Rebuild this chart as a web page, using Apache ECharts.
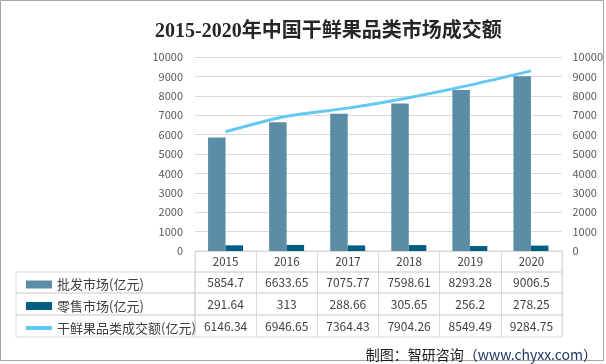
<!DOCTYPE html>
<html><head><meta charset="utf-8">
<script src="https://cdn.jsdelivr.net/npm/echarts@6/dist/echarts.min.js"></script>
<style>html,body{margin:0;padding:0;background:#fff}#c{width:606px;height:364px}</style>
</head><body><div id="c"></div>
<script>
const categories = ['2015','2016','2017','2018','2019','2020'];
const wholesale = [5854.7, 6633.65, 7075.77, 7598.61, 8293.28, 9006.5];
const retail = [291.64, 313, 288.66, 305.65, 256.2, 278.25];
const total = [6146.34, 6946.65, 7364.43, 7904.26, 8549.49, 9284.75];
const seriesNames = ['批发市场(亿元)', '零售市场(亿元)', '干鲜果品类成交额(亿元)'];
const yMin = 0, yMax = 10000, yInterval = 1000;
const tableRows = [categories, wholesale, retail, total];

const colors = ['#5b8ea6', '#005e82', '#63c8f2'];
const L = 195, R = 44;
const rowTops = [251, 272, 293, 315];
const rowH = [21, 21, 22, 22];
const gridLine = '#d9d9d9';
const cjk = "'Noto Sans CJK SC','Noto Sans',sans-serif";

const grids = [{left: L, right: R, top: 57, bottom: 364 - 251}];
const xAxes = [{type: 'category', gridIndex: 0, data: categories, show: false}];
const yLabel = (m) => ({color: '#595959', fontSize: 11, margin: m, fontFamily: cjk, formatter: (v) => String(v)});
const yAxes = [
  {type: 'value', gridIndex: 0, position: 'left', min: yMin, max: yMax, interval: yInterval,
   axisLine: {show: false}, axisTick: {show: false},
   splitLine: {lineStyle: {color: gridLine}}, axisLabel: yLabel(12)},
  {type: 'value', gridIndex: 0, position: 'right', min: yMin, max: yMax, interval: yInterval,
   axisLine: {show: false}, axisTick: {show: false}, splitLine: {show: false}, axisLabel: yLabel(11)}
];

// table rows (value cells)
tableRows.forEach((row, r) => {
  grids.push({left: L, right: R, top: rowTops[r], height: rowH[r], show: true,
    borderColor: gridLine, borderWidth: 1, backgroundColor: 'transparent'});
  const gi = grids.length - 1;
  xAxes.push({type: 'category', gridIndex: gi, data: categories, position: 'bottom',
    axisLine: {show: false}, axisTick: {show: false},
    splitLine: {show: true, lineStyle: {color: gridLine}},
    axisLabel: {interval: 0, formatter: (v, i) => String(row[i]), margin: -rowH[r] / 2,
      verticalAlign: 'middle', color: '#404040', fontSize: r === 0 ? 11.5 : 12, fontFamily: cjk}});
  yAxes.push({type: 'value', gridIndex: gi, show: false});
});
// legend cells
for (let r = 1; r < 4; r++) {
  grids.push({left: 16, width: L - 16, top: rowTops[r], height: rowH[r], show: true,
    borderColor: gridLine, borderWidth: 1, backgroundColor: 'transparent'});
  const gi = grids.length - 1;
  xAxes.push({type: 'value', gridIndex: gi, show: false});
  yAxes.push({type: 'value', gridIndex: gi, show: false});
}

const legends = seriesNames.map((n, i) => {
  const center = rowTops[i + 1] + rowH[i + 1] / 2;
  return {data: [n], left: 21, top: center - 10, itemWidth: 26, itemHeight: i === 2 ? 4 : 8,
    icon: i === 2 ? 'roundRect' : 'rect', selectedMode: false,
    textStyle: {fontSize: 13, color: '#404040', lineHeight: 14, fontFamily: cjk}};
});

const option = {
  animation: false,
  title: [
    {text: '2015-2020年中国干鲜果品类市场成交额', left: 150, top: 17,
     textStyle: {fontSize: 20, fontWeight: 'bold', color: '#262626',
       fontFamily: "'Liberation Serif','Noto Sans CJK SC',serif"}},
    {text: '{a|制图：智研咨询（}{b|www.chyxx.com}{a|）}', right: 4, top: 343,
     textStyle: {fontWeight: 'normal', rich: {
       a: {fontSize: 14, color: '#1a1a1a', fontFamily: cjk, fontWeight: 'normal'},
       b: {fontSize: 14, color: '#1f3864', fontFamily: cjk, fontWeight: 'normal'}}}}
  ],
  legend: legends,
  grid: grids,
  xAxis: xAxes,
  yAxis: yAxes,
  graphic: [{type: 'rect', shape: {x: 0.5, y: 0.5, width: 603, height: 360},
    style: {fill: null, stroke: '#a6a6a6', lineWidth: 1}, silent: true}],
  series: [
    {name: seriesNames[0], type: 'bar', xAxisIndex: 0, yAxisIndex: 0, data: wholesale,
     barWidth: 17.5, barGap: '0%', itemStyle: {color: colors[0]}},
    {name: seriesNames[1], type: 'bar', xAxisIndex: 0, yAxisIndex: 0, data: retail,
     barWidth: 17.5, barGap: '0%', itemStyle: {color: colors[1]}},
    {name: seriesNames[2], type: 'line', xAxisIndex: 0, yAxisIndex: 1, data: total,
     smooth: 0.3, symbol: 'none', lineStyle: {width: 3, color: colors[2]}, itemStyle: {color: colors[2]}}
  ]
};
echarts.init(document.getElementById('c'), null, {renderer: 'canvas'}).setOption(option);
</script></body></html>
